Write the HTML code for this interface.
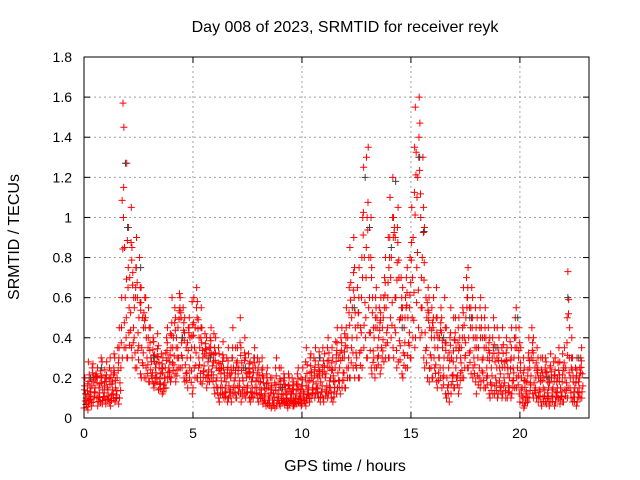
<!DOCTYPE html>
<html><head><meta charset="utf-8"><style>
html,body{margin:0;padding:0;background:#fff;}
svg{display:block;font-family:"Liberation Sans",sans-serif;}
</style></head><body>
<svg id="chart" width="640" height="480" viewBox="0 0 640 480" xmlns="http://www.w3.org/2000/svg">
<rect width="640" height="480" fill="#fff"/>
<text x="345" y="32" font-size="16" text-anchor="middle">Day 008 of 2023, SRMTID for receiver reyk</text>
<text transform="translate(19,237) rotate(-90)" font-size="16" text-anchor="middle">SRMTID / TECUs</text>
<text x="345" y="471" font-size="16" text-anchor="middle">GPS time / hours</text>
<g id="grid"></g>
<g id="ticks"></g>
<g id="points"></g>
<rect x="84" y="57" width="505" height="361" fill="none" stroke="#000" stroke-width="1"/>
</svg>
<script>
const xTicks=[0,5,10,15,20];
const yTicks=[0,0.2,0.4,0.6,0.8,1,1.2,1.4,1.6,1.8];
const yTickLabels=["0","0.2","0.4","0.6","0.8","1","1.2","1.4","1.6","1.8"];
const slotHours=0.1;
const redMid=[0.12,0.1,0.15,0.13,0.18,0.2,0.15,0.17,0.14,0.16,
0.15,0.14,0.17,0.18,0.15,0.2,0.25,0.6,0.85,0.5,
0.55,0.7,0.6,0.55,0.6,0.5,0.5,0.45,0.4,0.35,
0.3,0.28,0.25,0.27,0.25,0.22,0.2,0.25,0.3,0.28,
0.35,0.4,0.3,0.45,0.5,0.4,0.35,0.3,0.4,0.35,
0.35,0.45,0.4,0.35,0.3,0.32,0.28,0.3,0.32,0.28,
0.25,0.2,0.22,0.25,0.2,0.18,0.22,0.2,0.25,0.2,
0.22,0.25,0.2,0.25,0.2,0.22,0.18,0.2,0.25,0.2,
0.15,0.18,0.15,0.12,0.15,0.1,0.12,0.1,0.12,0.14,
0.12,0.15,0.12,0.1,0.13,0.12,0.1,0.12,0.14,0.12,
0.13,0.12,0.18,0.15,0.2,0.18,0.22,0.2,0.18,0.22,
0.2,0.22,0.25,0.2,0.18,0.25,0.3,0.25,0.3,0.3,
0.35,0.4,0.5,0.55,0.45,0.4,0.45,0.6,0.8,0.7,
0.8,0.6,0.45,0.4,0.45,0.4,0.45,0.5,0.55,0.6,
0.7,0.8,0.9,0.6,0.7,0.5,0.45,0.5,0.5,0.55,
0.7,0.9,1.1,1.2,1.0,0.8,0.6,0.5,0.45,0.4,
0.4,0.35,0.3,0.4,0.35,0.3,0.3,0.25,0.3,0.28,
0.35,0.3,0.3,0.35,0.4,0.5,0.55,0.45,0.4,0.35,
0.3,0.35,0.4,0.3,0.35,0.3,0.25,0.3,0.28,0.25,
0.25,0.22,0.28,0.25,0.22,0.2,0.25,0.3,0.35,0.3,
0.2,0.15,0.12,0.18,0.25,0.3,0.25,0.2,0.2,0.18,
0.15,0.2,0.18,0.15,0.2,0.15,0.18,0.2,0.15,0.18,
0.2,0.25,0.45,0.2,0.18,0.15,0.18,0.2,0.22];
const redHigh=[0.2,0.17,0.28,0.25,0.27,0.22,0.25,0.3,0.28,0.24,
0.28,0.25,0.3,0.32,0.3,0.35,0.45,1.57,1.45,1.27,
0.95,1.05,0.85,0.75,0.9,0.8,0.65,0.6,0.6,0.55,
0.45,0.4,0.38,0.42,0.36,0.32,0.3,0.4,0.45,0.42,
0.6,0.55,0.5,0.62,0.6,0.55,0.5,0.45,0.5,0.58,
0.6,0.65,0.58,0.55,0.45,0.42,0.4,0.4,0.45,0.42,
0.4,0.35,0.32,0.38,0.3,0.3,0.35,0.3,0.45,0.35,
0.35,0.5,0.35,0.4,0.3,0.32,0.28,0.3,0.35,0.3,
0.28,0.3,0.25,0.22,0.25,0.2,0.2,0.25,0.3,0.25,
0.25,0.22,0.2,0.22,0.2,0.2,0.18,0.22,0.25,0.2,
0.25,0.28,0.35,0.3,0.32,0.3,0.35,0.33,0.3,0.35,
0.32,0.35,0.4,0.35,0.3,0.38,0.45,0.4,0.45,0.42,
0.55,0.65,0.85,0.9,0.75,0.65,0.75,1.0,1.25,1.3,
1.35,1.0,0.75,0.6,0.65,0.55,0.6,0.7,0.8,0.9,
1.1,1.2,1.0,0.95,1.05,0.7,0.65,0.7,0.75,0.8,
1.05,1.35,1.55,1.6,1.47,1.3,0.95,0.65,0.6,0.55,
0.6,0.65,0.5,0.55,0.5,0.6,0.45,0.4,0.55,0.5,
0.5,0.45,0.5,0.55,0.65,0.7,0.75,0.65,0.6,0.55,
0.5,0.55,0.6,0.5,0.55,0.45,0.4,0.5,0.45,0.45,
0.4,0.35,0.45,0.4,0.35,0.38,0.45,0.5,0.55,0.45,
0.35,0.3,0.25,0.3,0.4,0.45,0.4,0.35,0.3,0.3,
0.3,0.3,0.28,0.25,0.32,0.28,0.3,0.35,0.28,0.32,
0.35,0.5,0.73,0.4,0.3,0.25,0.3,0.3,0.35];
const redLow=[0.05,0.04,0.07,0.06,0.08,0.1,0.06,0.08,0.07,0.09,
0.07,0.08,0.06,0.1,0.08,0.07,0.1,0.3,0.35,0.3,
0.3,0.35,0.3,0.25,0.25,0.22,0.2,0.2,0.2,0.18,
0.18,0.17,0.15,0.18,0.14,0.12,0.13,0.15,0.2,0.18,
0.2,0.22,0.18,0.25,0.25,0.2,0.18,0.15,0.2,0.12,
0.15,0.2,0.2,0.18,0.17,0.2,0.15,0.18,0.2,0.15,
0.12,0.1,0.08,0.12,0.1,0.08,0.1,0.08,0.12,0.1,
0.1,0.12,0.08,0.12,0.1,0.1,0.08,0.1,0.12,0.1,
0.08,0.1,0.07,0.06,0.07,0.05,0.06,0.05,0.06,0.07,
0.06,0.08,0.07,0.05,0.07,0.06,0.06,0.07,0.08,0.06,
0.07,0.06,0.1,0.08,0.1,0.1,0.12,0.1,0.08,0.1,
0.08,0.1,0.12,0.1,0.08,0.12,0.15,0.12,0.15,0.15,
0.15,0.2,0.2,0.25,0.2,0.2,0.2,0.25,0.35,0.3,
0.3,0.25,0.22,0.2,0.25,0.22,0.25,0.28,0.3,0.3,
0.3,0.35,0.3,0.25,0.28,0.22,0.2,0.25,0.25,0.3,
0.3,0.35,0.4,0.45,0.4,0.3,0.25,0.2,0.18,0.2,
0.2,0.18,0.15,0.2,0.15,0.12,0.1,0.08,0.12,0.15,
0.15,0.12,0.15,0.2,0.2,0.25,0.25,0.22,0.2,0.18,
0.12,0.15,0.18,0.15,0.15,0.12,0.1,0.12,0.12,0.1,
0.12,0.1,0.12,0.1,0.1,0.1,0.12,0.15,0.15,0.12,
0.08,0.05,0.06,0.08,0.1,0.12,0.1,0.1,0.08,0.08,
0.06,0.08,0.07,0.06,0.08,0.06,0.08,0.1,0.07,0.08,
0.08,0.1,0.15,0.1,0.08,0.06,0.08,0.1,0.1];
const grayHours=[0.3,0.8,1.9,2.0,2.6,3.2,4.5,5.8,7.4,9.1,10.8,12.4,12.9,13.1,14.1,14.3,14.6,15.4,15.6,16.5,17.7,18.9,19.9,21.3,22.2,22.7];
const grayValues=[0.2,0.25,1.27,0.95,0.75,0.3,0.4,0.3,0.25,0.15,0.3,0.55,1.2,0.95,0.85,1.18,0.45,1.3,0.93,0.4,0.5,0.35,0.5,0.2,0.6,0.3];

const X0=84,X1=589,Y0=418,Y1=57,XMAX=23.17,YMAX=1.8;
const xs=v=>X0+v/XMAX*(X1-X0);
const ys=v=>Y0-v/YMAX*(Y0-Y1);
const NS="http://www.w3.org/2000/svg";
const grid=document.getElementById('grid'),ticks=document.getElementById('ticks'),pts=document.getElementById('points');
function mk(tag,attrs,parent){const e=document.createElementNS(NS,tag);for(const k in attrs)e.setAttribute(k,attrs[k]);parent.appendChild(e);return e;}
xTicks.forEach(t=>{const x=xs(t);
 if(t>0){const g=mk('line',{x1:x,x2:x,y1:Y0,y2:Y1,stroke:'#a0a0a0','stroke-dasharray':'2,3'},grid);
 
 }
 mk('line',{x1:x,x2:x,y1:Y0,y2:Y0-6,stroke:'#000'},ticks);
 mk('line',{x1:x,x2:x,y1:Y1,y2:Y1+6,stroke:'#000'},ticks);
 const l=mk('text',{x:x,y:Y0+20,'font-size':14,'text-anchor':'middle'},ticks);l.textContent=t;
 
 });
yTicks.forEach((t,i)=>{const y=ys(t);
 if(t>0&&t<YMAX){const g=mk('line',{x1:X0,x2:X1,y1:y,y2:y,stroke:'#a0a0a0','stroke-dasharray':'2,3'},grid);
 
 }
 mk('line',{x1:X0,x2:X0+6,y1:y,y2:y,stroke:'#000'},ticks);
 mk('line',{x1:X1,x2:X1-6,y1:y,y2:y,stroke:'#000'},ticks);
 const l=mk('text',{x:X0-12,y:y+5,'font-size':14,'text-anchor':'end'},ticks);l.textContent=yTickLabels[i];
 
 });
function plus(h,v,color,name){const x=xs(h),y=ys(v);
 const p=mk('path',{d:`M${x-3.5},${y}h7M${x},${y-3.5}v7`,stroke:color,'stroke-width':1,fill:'none'},pts);
 
 }
// marker x-spread pattern (layout only)
const spread=[0,0.06,0.02,0.08,0.04,0.09,0.01,0.07,0.03,0.05];
for(let i=0;i<redMid.length;i++){
 const t=i*slotHours;
 const lo=redLow[i],md=redMid[i],hi=redHigh[i];
 const vals=[lo,md,hi,(lo+md)/2,(md+hi)/2,(lo*3+md)/4,(md*3+hi)/4];
 vals.forEach((v,k)=>{plus(t+spread[(i*3+k*7)%10],v,'#ff0000','red-point');});
}
grayValues.forEach((v,i)=>plus(grayHours[i],v,'#404040','gray-point'));
</script>
</body></html>
